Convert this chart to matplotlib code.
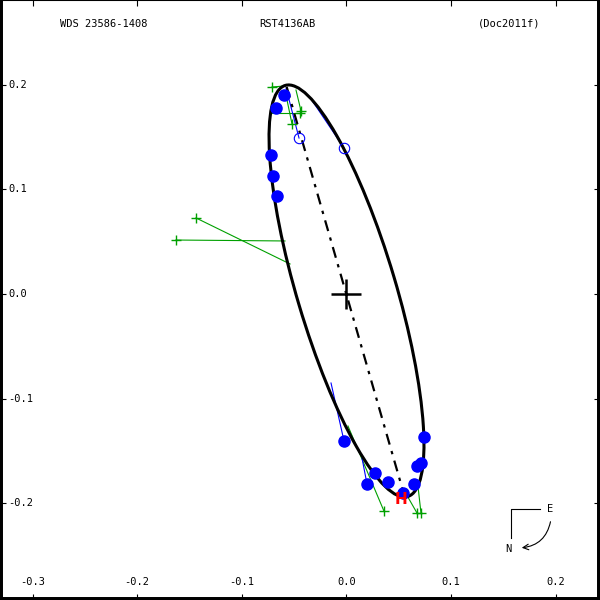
import numpy as np
import matplotlib
matplotlib.use("Agg")
import matplotlib.pyplot as plt
from matplotlib.patches import Ellipse

# orbit ellipse (apparent): centre, full axes, position angle of major axis
orbit_center = (0.0002, 0.0029)
orbit_width = 0.4101
orbit_height = 0.0946
orbit_angle = 106.6

# line of apsides: apastron -> periastron
apsides_x = [-0.0570, 0.0545]
apsides_y = [0.1980, -0.1893]

# filled blue dots (interferometric), observed positions
dot_x = [-0.0596, -0.0672, -0.0720, -0.0701, -0.0663, -0.0022, 0.0198,
         0.0274, 0.0398, 0.0542, 0.0647, 0.0676, 0.0714, 0.0743]
dot_y = [0.1902, 0.1778, 0.1329, 0.1128, 0.0937, -0.1405, -0.1816,
         -0.1711, -0.1797, -0.1902, -0.1816, -0.1644, -0.1616, -0.1367]
# residual lines of filled dots (observed -> predicted)
dot_res_obs = [(-0.0022, -0.1405), (0.0198, -0.1816)]
dot_res_pred = [(-0.0146, -0.0851), (0.0150, -0.1568)]

# open blue circles
open_x = [-0.0452, -0.0022]
open_y = [0.1491, 0.1396]
open_pred_x = [-0.0576, -0.0337]
open_pred_y = [0.1969, 0.1864]

# green crosses (visual micrometer)
vis_x = [-0.0710, -0.0433, -0.0443, -0.0519, -0.1437, -0.1628, 0.0360, 0.0676, 0.0714]
vis_y = [0.1979, 0.1750, 0.1730, 0.1625, 0.0727, 0.0516, -0.2075, -0.2094, -0.2094]
vis_pred_x = [-0.0586, -0.0481, -0.0720, -0.0567, -0.0538, -0.0586, 0.0016, 0.0561, 0.0685]
vis_pred_y = [0.1989, 0.1950, 0.1730, 0.1855, 0.0287, 0.0507, -0.1262, -0.1893, -0.1836]

# Hipparcos point
hip_x = [0.0523]
hip_y = [-0.1960]

xticks = [-0.3, -0.2, -0.1, 0.0, 0.1, 0.2]
yticks = [-0.2, -0.1, 0.0, 0.1, 0.2]

title_left = "WDS 23586-1408"
title_mid = "RST4136AB"
title_right = "(Doc2011f)"

mono = "DejaVu Sans Mono"
blue = "#0000ff"
green = "#00a000"

fig = plt.figure(figsize=(6, 6), dpi=100)
ax = fig.add_axes([0, 0, 1, 1])
s = 1046.0
ax.set_xlim(-346.3 / s, 253.7 / s)
ax.set_ylim(-306.0 / s, 294.0 / s)

# residual lines
for i in range(len(vis_x)):
    ax.plot([vis_x[i], vis_pred_x[i]], [vis_y[i], vis_pred_y[i]], color=green, lw=0.8, zorder=2)
for i in range(len(open_x)):
    ax.plot([open_x[i], open_pred_x[i]], [open_y[i], open_pred_y[i]], color=blue, lw=0.8, zorder=2)
for o, p in zip(dot_res_obs, dot_res_pred):
    ax.plot([o[0], p[0]], [o[1], p[1]], color=blue, lw=0.8, zorder=2)

ax.add_patch(Ellipse(orbit_center, orbit_width, orbit_height, angle=orbit_angle,
                     fill=False, ec="black", lw=2.2, zorder=4))
ax.plot(apsides_x, apsides_y, color="black", lw=1.6, zorder=3,
        dashes=(5, 3, 1.5, 3))

ax.plot(dot_x, dot_y, "o", color=blue, ms=8, mec=blue, zorder=5)
ax.plot(open_x, open_y, "o", mfc="none", mec=blue, ms=7.5, mew=0.8, zorder=5)
ax.plot(vis_x, vis_y, "+", color=green, ms=7, mew=1, zorder=5)
for hx, hy in zip(hip_x, hip_y):
    ax.text(hx, hy, "H", color="red", fontsize=11, fontweight="bold", family="DejaVu Sans",
            ha="center", va="center", zorder=6)

# primary star
ax.plot([0], [0], "+", color="black", ms=22, mew=1.8, zorder=6)

# frame and ticks
for side, lw in [("left", 4.3), ("bottom", 4.3), ("right", 4.3), ("top", 1.5)]:
    ax.spines[side].set_linewidth(lw)
ax.set_xticks(xticks)
ax.set_yticks(yticks)
ax.tick_params(direction="in", length=4.5, width=0.8, top=True, right=True,
               labelbottom=False, labelleft=False)
for t in xticks:
    ax.text(t, -0.2753, "%.1f" % t, ha="center", va="center", fontsize=7.5, family=mono)
for t in yticks:
    ax.text(-0.3235, t, "%.1f" % t, ha="left", va="center", fontsize=7.5, family=mono)

ax.text(60 / 600, 1 - 24 / 600, title_left, transform=ax.transAxes, ha="left", va="center",
        fontsize=7.5, family=mono)
ax.text(287 / 600, 1 - 24 / 600, title_mid, transform=ax.transAxes, ha="center", va="center",
        fontsize=7.5, family=mono)
ax.text(509 / 600, 1 - 24 / 600, title_right, transform=ax.transAxes, ha="center", va="center",
        fontsize=7.5, family=mono)

# compass
ax.plot([511 / 600, 511 / 600, 540 / 600], [1 - 538 / 600, 1 - 509 / 600, 1 - 509 / 600],
        color="black", lw=0.8, transform=ax.transAxes)
ax.text(550 / 600, 1 - 509 / 600, "E", transform=ax.transAxes, ha="center", va="center",
        fontsize=7.5, family=mono)
ax.text(508 / 600, 1 - 549 / 600, "N", transform=ax.transAxes, ha="center", va="center",
        fontsize=7.5, family=mono)
ax.annotate("", xy=(519 / 600, 1 - 548 / 600), xytext=(551 / 600, 1 - 519 / 600),
            xycoords="axes fraction", textcoords="axes fraction",
            arrowprops=dict(arrowstyle="->", color="black", lw=0.8,
                            connectionstyle="arc3,rad=-0.4"))

fig.savefig("out.png", dpi=100)
